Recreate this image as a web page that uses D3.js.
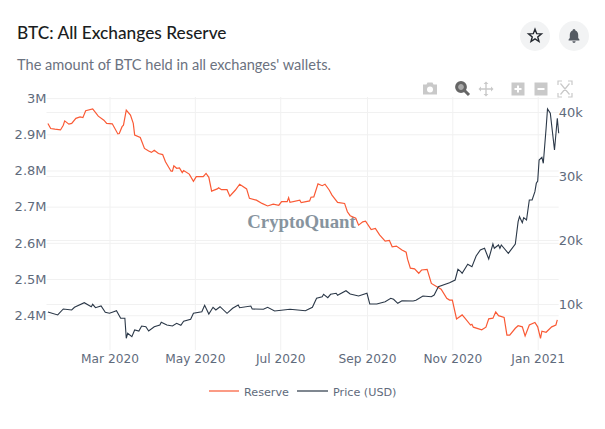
<!DOCTYPE html>
<html><head><meta charset="utf-8">
<script src="https://cdn.jsdelivr.net/npm/d3@7"></script>
<style>html,body{margin:0;padding:0;background:#fff;overflow:hidden}svg{display:block}</style>
</head><body><svg id="c" width="605" height="429"></svg>
<script>
// days counted from 2020-01-01
const reserveDays=[16,18,21,25,27,28,31,33,36,39,41,43,48,52,56,58,62,66,67,69,70,72,75,77,78,82,85,88,90,92,95,98,100,104,105,106,108,110,112,113,117,120,122,127,129,131,133,137,138,140,144,146,150,153,158,160,165,169,173,177,181,183,187,188,189,196,197,203,204,206,209,212,214,217,219,223,228,230,232,236,238,241,243,247,250,253,257,260,262,265,269,272,273,275,278,281,283,287,290,294,297,301,303,305,308,312,314,318,319,320,326,329,331,334,336,338,342,344,346,350,352,355,357,360,364,366,368,369,372,376,379,380];
const reserveValues=[2930,2916,2914,2912,2925,2937,2928,2930,2944,2948,2946,2965,2970,2950,2939,2930,2929,2901,2902,2921,2925,2967,2953,2930,2898,2891,2861,2854,2850,2856,2847,2844,2824,2798,2798,2813,2806,2807,2794,2800,2790,2770,2783,2783,2792,2781,2743,2749,2752,2747,2747,2729,2746,2762,2749,2723,2718,2709,2702,2707,2704,2714,2714,2725,2712,2718,2711,2716,2726,2727,2763,2758,2762,2746,2732,2712,2709,2686,2675,2668,2649,2658,2660,2637,2640,2622,2605,2607,2589,2591,2580,2574,2555,2530,2528,2516,2525,2527,2488,2479,2472,2447,2442,2442,2390,2401,2392,2373,2375,2367,2360,2367,2390,2392,2409,2399,2394,2345,2345,2364,2371,2368,2343,2373,2380,2368,2336,2356,2353,2368,2373,2387];
const priceDays=[16,23,27,33,35,42,47,48,50,54,57,60,63,65,68,71,72,73,76,78,81,83,86,88,92,96,97,101,105,108,111,113,118,120,126,128,131,134,136,139,144,148,152,153,161,162,170,173,178,189,200,205,208,212,213,216,218,222,223,229,232,238,244,246,251,257,261,263,266,269,277,279,284,290,292,295,303,307,309,311,312,316,319,322,325,328,331,334,335,338,339,340,345,350,352,353,355,356,358,360,362,364,365,366,367,369,370,372,373,375,378,380,381];
const priceValues=[8750,8281,9219,9062,9484,10203,9578,9953,9422,9688,8703,8547,8797,8953,7766,7766,4641,5422,4891,5938,5781,6563,6453,5781,6453,6719,7141,6719,6563,6984,6672,7297,7609,8547,8797,9797,8438,9484,9062,9578,8547,9328,9844,9422,9688,9219,9172,9484,8906,9172,8953,9484,10891,11141,11516,10984,11516,11672,11359,12078,11563,11250,11672,10000,10000,10359,10891,10734,10109,10516,10469,10578,11250,11141,11406,12703,13328,13750,15422,15047,14797,16203,15828,17500,18438,18703,17031,19375,18703,19219,18703,19219,17922,19375,22859,23641,22703,23484,23125,26250,26250,27547,28859,29219,32500,32922,31984,37453,40469,39797,34063,39016,36672];
const xTickDates=["2020-03-01","2020-05-01","2020-07-01","2020-09-01","2020-11-01","2021-01-01"];
const reserveTicks=[2400,2500,2600,2700,2800,2900,3000];
const reserveTickLabels=["2.4M","2.5M","2.6M","2.7M","2.8M","2.9M","3M"];
const priceTicks=[10000,20000,30000,40000];
const priceTickLabels=["10k","20k","30k","40k"];
const seriesNames=["Reserve","Price (USD)"];
const titleText="BTC: All Exchanges Reserve";
const subtitleText="The amount of BTC held in all exchanges' wallets.";

const svg=d3.select("#c");
const L=46.5,R=558.7,T=97,B=350;
const base=new Date(2020,0,1);
const toDate=d=>d3.timeDay.offset(base,d);
const x=d3.scaleTime().domain([toDate(15),toDate(381)]).range([L,R]);
const yL=d3.scaleLinear().domain([2304,3003]).range([B,T]);
const yR=d3.scaleLinear().domain([2812,42343]).range([B,T]);

const tickColor="#5f6b7c", gridColor="#f1f1f1", axisFont="'DejaVu Sans',sans-serif";
const style=(size)=>g=>{g.select(".domain").remove();g.selectAll("line").attr("stroke",gridColor).attr("stroke-width",1);
 g.selectAll("text").attr("fill",tickColor).attr("font-family",axisFont).attr("font-size",size);};

svg.append("g").attr("transform",`translate(0,${B})`)
 .call(d3.axisBottom(x).tickValues(xTickDates.map(d=>d3.timeParse("%Y-%m-%d")(d))).tickFormat(d3.timeFormat("%b %Y")).tickSizeInner(-(B-T)).tickSizeOuter(0).tickPadding(4.5))
 .call(style(12.2));
svg.append("g").attr("transform",`translate(${L},0)`)
 .call(d3.axisLeft(yL).tickValues(reserveTicks).tickFormat((d,i)=>reserveTickLabels[i]).tickSizeInner(-(R-L)).tickSizeOuter(0).tickPadding(0))
 .call(style(13));
svg.append("g").attr("transform",`translate(${R},0)`)
 .call(d3.axisRight(yR).tickValues(priceTicks).tickFormat((d,i)=>priceTickLabels[i]).tickSizeInner(-(R-L)).tickSizeOuter(0).tickPadding(0))
 .call(style(13));

svg.append("text").attr("x",301.5).attr("y",228).attr("text-anchor","middle")
 .attr("font-family","'Liberation Serif',serif").attr("font-weight",700).attr("font-size",18.8)
 .attr("fill","#87949e").text("CryptoQuant");

const line=(ys)=>d3.line().x(d=>x(toDate(d[0]))).y(d=>ys(d[1]));
const resPts=d3.zip(reserveDays,reserveValues), prPts=d3.zip(priceDays,priceValues);
svg.append("path").datum(resPts).attr("d",line(yL)).attr("fill","none").attr("stroke","#fa5a35").attr("stroke-width",1.2);
svg.append("path").datum(prPts).attr("d",line(yR)).attr("fill","none").attr("stroke","#2b3848").attr("stroke-width",1.1);

// header
const head="'Lato','Open Sans',sans-serif";
svg.append("text").attr("x",17).attr("y",38.5).attr("font-family",head).attr("font-weight",500).attr("font-size",17.3).attr("fill","#1a1d21").text(titleText);
svg.append("text").attr("x",17).attr("y",70).attr("font-family",head).attr("font-size",14.6).attr("fill","#6b7280").text(subtitleText);

// round buttons
[[535,36],[574,36]].forEach(c=>svg.append("circle").attr("cx",c[0]).attr("cy",c[1]).attr("r",15).attr("fill","#f2f3f4"));
const star=d3.range(10).map(i=>{const r=i%2?2.9:6.8,a=i*Math.PI/5-Math.PI/2;return [r*Math.cos(a),r*Math.sin(a)];});
svg.append("path").attr("transform","translate(535,36)").attr("d",d3.line()(star)+"Z").attr("fill","none").attr("stroke","#23272e").attr("stroke-width",1.4);
svg.append("path").attr("transform","translate(574,36)").attr("d","M0,-7 C-1,-7 -1.4,-6.2 -1.4,-5.6 C-3.6,-4.8 -4.2,-2.8 -4.2,-0.8 L-4.2,2 L-5.4,3.6 L-5.4,4.4 L5.4,4.4 L5.4,3.6 L4.2,2 L4.2,-0.8 C4.2,-2.8 3.6,-4.8 1.4,-5.6 C1.4,-6.2 1,-7 0,-7Z M-1.6,5.3 L1.6,5.3 C1.6,6.3 0.8,6.9 0,6.9 C-0.8,6.9 -1.6,6.3 -1.6,5.3Z").attr("fill","#555b63");

// modebar
const mc="#c9c9c9";
const cam=svg.append("g").attr("transform","translate(430,89)");
cam.append("path").attr("d","M-7,-4.5 L-3.5,-4.5 L-2.5,-6.5 L2.5,-6.5 L3.5,-4.5 L7,-4.5 L7,5.5 L-7,5.5Z").attr("fill",mc);
cam.append("circle").attr("r",3).attr("cy",0.5).attr("fill","#fff");
const mag=svg.append("g").attr("transform","translate(461,87)");
mag.append("circle").attr("r",4.4).attr("fill","#aaa").attr("stroke","#666").attr("stroke-width",3);
mag.append("line").attr("x1",3.5).attr("y1",3.5).attr("x2",8).attr("y2",8).attr("stroke","#666").attr("stroke-width",3);
svg.append("path").attr("transform","translate(486,89)").attr("d","M0,-7.5 L2.4,-5 L0.7,-5 L0.7,-0.7 L5,-0.7 L5,-2.4 L7.5,0 L5,2.4 L5,0.7 L0.7,0.7 L0.7,5 L2.4,5 L0,7.5 L-2.4,5 L-0.7,5 L-0.7,0.7 L-5,0.7 L-5,2.4 L-7.5,0 L-5,-2.4 L-5,-0.7 L-0.7,-0.7 L-0.7,-5 L-2.4,-5Z").attr("fill",mc);
svg.append("rect").attr("x",511.5).attr("y",82.5).attr("width",13).attr("height",13).attr("fill",mc);
svg.append("path").attr("d","M514.5,89H521.5M518,85.5V92.5").attr("stroke","#fff").attr("stroke-width",2);
svg.append("rect").attr("x",534.5).attr("y",82.5).attr("width",13).attr("height",13).attr("fill",mc);
svg.append("path").attr("d","M537.5,89H544.5").attr("stroke","#fff").attr("stroke-width",2);
svg.append("path").attr("d","M558,85V81H562M568,81H572V85M558,93V97H562M568,97H572V93M560.5,83.5L569.5,94.5M569.5,83.5L560.5,94.5").attr("fill","none").attr("stroke",mc).attr("stroke-width",1.2);

// legend
const legend=svg.append("g");
[[209,239,244,"#fa5a35"],[297,328,333,"#2b3848"]].forEach((l,i)=>{
 legend.append("line").attr("x1",l[0]).attr("x2",l[1]).attr("y1",391).attr("y2",391).attr("stroke",l[3]).attr("stroke-width",2).attr("opacity",.6);
 legend.append("text").attr("x",l[2]).attr("y",395.5).attr("font-family",axisFont).attr("font-size",11.2).attr("fill",tickColor).text(seriesNames[i]);
});
</script></body></html>
